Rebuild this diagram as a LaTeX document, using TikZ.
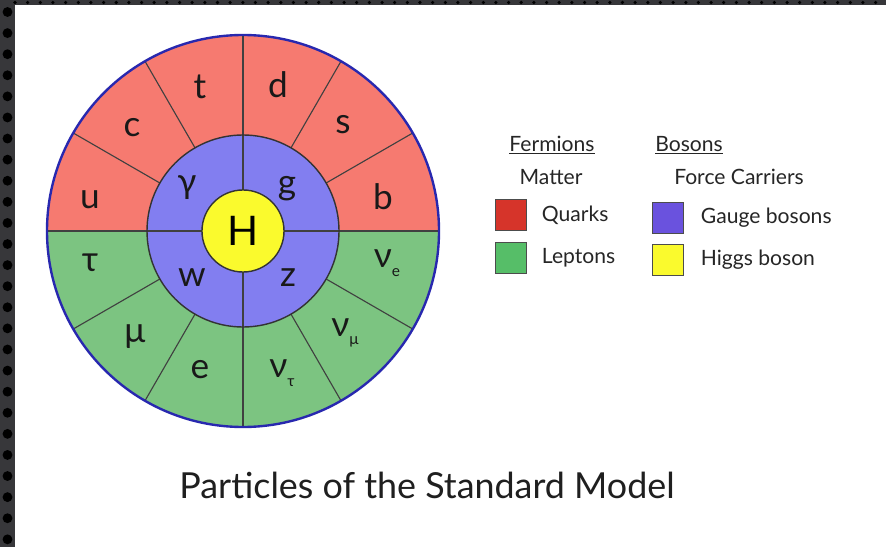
\documentclass[tikz,border=0pt]{standalone}
\usepackage{fontspec}
\setmainfont{Lato}
\usetikzlibrary{positioning}
\definecolor{quarkclaro}{RGB}{246,122,112}
\definecolor{leptonclaro}{RGB}{124,196,129}
\definecolor{gaugeclaro}{RGB}{130,126,240}
\definecolor{higgsamarelo}{RGB}{250,250,45}
\definecolor{quarkforte}{RGB}{214,52,42}
\definecolor{leptonforte}{RGB}{86,190,104}
\definecolor{gaugeforte}{RGB}{106,82,222}
\definecolor{contorno}{RGB}{40,40,175}
\definecolor{moldura}{RGB}{55,55,58}
\tikzset{
  letra/.style={font=\fontsize{25}{25}\selectfont, inner sep=0pt, text=black!90},
  letraH/.style={circle, draw=black!80, line width=1pt, fill=higgsamarelo,
    minimum size=2.05cm, inner sep=0pt, font=\fontsize{29}{29}\selectfont},
  raio/.style={line width=0.8pt, black!75},
  anel/.style={line width=1pt, black!80},
  borda/.style={line width=1.7pt, contorno},
  quadrado/.style={draw=black!70, line width=0.6pt, minimum size=0.77cm, inner sep=0pt},
  legenda/.style={font=\fontsize{15}{15}\selectfont, inner sep=0pt, text=black!85},
  titulo/.style={font=\fontsize{25.5}{25.5}\selectfont, inner sep=0pt, text=black!88},
}
\newcommand{\indice}[1]{\raisebox{-0.25em}{\fontsize{11}{11}\selectfont #1}}

\begin{document}
\begin{tikzpicture}[x=0.025cm, y=0.025cm]

\useasboundingbox (0,0) rectangle (886,547);
\fill[white] (0,0) rectangle (886,547);

% moldura escura da captura
\fill[moldura] (0,0) rectangle (15,547);
\fill[moldura] (0,542) rectangle (886,547);
\draw[black, line width=7pt, line cap=round, dash pattern=on 0pt off 15pt] (7.5,535) -- (7.5,0);
\draw[black, line width=2.5pt, line cap=round, dash pattern=on 0pt off 9pt] (15,544.5) -- (886,544.5);

\coordinate (centro) at (243,316);

% metades do anel externo
\fill[quarkclaro] ([shift={(0:196)}]centro) arc[start angle=0, end angle=180, radius=196] -- cycle;
\fill[leptonclaro] ([shift={(180:196)}]centro) arc[start angle=180, end angle=360, radius=196] -- cycle;
\fill[gaugeclaro] (centro) circle (96);

% divisoes
\draw[raio] ([shift={(180:196)}]centro) -- ([shift={(0:196)}]centro);
\draw[raio] ([shift={(90:196)}]centro) -- ([shift={(270:196)}]centro);
\draw[raio] ([shift={(30:96)}]centro) -- ([shift={(30:196)}]centro);
\draw[raio] ([shift={(60:96)}]centro) -- ([shift={(60:196)}]centro);
\draw[raio] ([shift={(120:96)}]centro) -- ([shift={(120:196)}]centro);
\draw[raio] ([shift={(150:96)}]centro) -- ([shift={(150:196)}]centro);
\draw[raio] ([shift={(210:96)}]centro) -- ([shift={(210:196)}]centro);
\draw[raio] ([shift={(240:96)}]centro) -- ([shift={(240:196)}]centro);
\draw[raio] ([shift={(300:96)}]centro) -- ([shift={(300:196)}]centro);
\draw[raio] ([shift={(330:96)}]centro) -- ([shift={(330:196)}]centro);

\draw[anel] (centro) circle (96);
\draw[borda] (centro) circle (196);

\node[letraH] (higgs) at (centro) {H};

% quarks
\node[letra] (up) at (90,347) {u};
\node[letra] (charm) at (132,419) {c};
\node[letra] (top) at (200,460) {t};
\node[letra] (down) at (278,462) {d};
\node[letra] (strange) at (343,422) {s};
\node[letra] (bottom) at (383,350) {b};

% leptons
\node[letra] (tau) at (90,284) {τ};
\node[letra] (muon) at (135,210) {μ};
\node[letra] (eletron) at (200,177) {e};
\node[letra] (nutau) at (282,174) {ν\indice{τ}};
\node[letra] (numu) at (345,214) {ν\indice{μ}};
\node[letra] (nue) at (387,284) {ν\indice{e}};

% bosons de gauge
\node[letra] (foton) at (187,359) {γ};
\node[letra] (gluon) at (287,358) {g};
\node[letra] (bosonw) at (192,269) {w};
\node[letra] (bosonz) at (288,269) {z};

% legenda
\node[legenda] (fermions) at (552,402) {\underline{Fermions}};
\node[legenda] (matter) at (551,370) {Matter};
\node[legenda] (bosons) at (689,402) {\underline{Bosons}};
\node[legenda] (forca) at (739,370) {Force Carriers};

\node[quadrado, fill=quarkforte] (qquark) at (511,332) {};
\node[legenda, anchor=west, right=0.37cm of qquark] (quarks) {Quarks};
\node[quadrado, fill=leptonforte] (qlepton) at (511,289) {};
\node[legenda, anchor=west, right=0.37cm of qlepton] (leptons) {Leptons};
\node[quadrado, fill=gaugeforte] (qgauge) at (668,329) {};
\node[legenda, anchor=west, right=0.42cm of qgauge] (gauge) {Gauge bosons};
\node[quadrado, fill=higgsamarelo] (qhiggs) at (668,287) {};
\node[legenda, anchor=west, right=0.42cm of qhiggs] (higgsleg) {Higgs boson};

\node[titulo] (titulo) at (427,62) {Particles of the Standard Model};

\end{tikzpicture}
\end{document}
